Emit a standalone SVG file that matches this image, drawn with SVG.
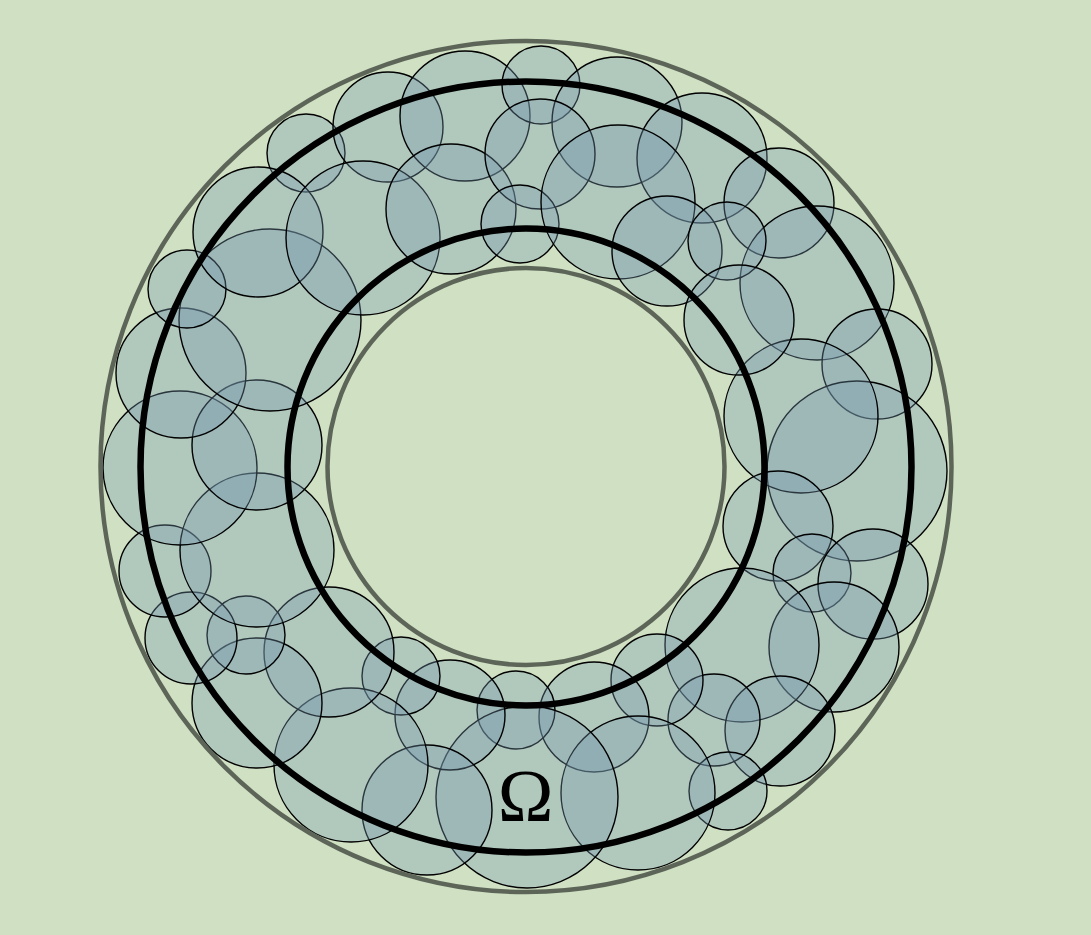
<svg xmlns="http://www.w3.org/2000/svg" width="1091" height="935" viewBox="0 0 1091 935">
<style>
.b{fill:#779bae;fill-opacity:0.35;stroke:#000;stroke-width:1.4}
.g{fill:none;stroke:#5d6558;stroke-width:4.5}
.k{fill:none;stroke:#000;stroke-width:6.5}
.t{font-family:"Liberation Serif","DejaVu Serif",serif;font-size:75px;fill:#000}
</style>
<rect width="1091" height="935" fill="#d0e0c3"/>
<g id="balls">
<circle class="b" cx="306" cy="153" r="39"/>
<circle class="b" cx="388" cy="127" r="55"/>
<circle class="b" cx="465" cy="116" r="65"/>
<circle class="b" cx="541" cy="85" r="39"/>
<circle class="b" cx="617" cy="122" r="65"/>
<circle class="b" cx="702" cy="158" r="65"/>
<circle class="b" cx="779" cy="203" r="55"/>
<circle class="b" cx="817" cy="283" r="77"/>
<circle class="b" cx="877" cy="364" r="55"/>
<circle class="b" cx="857" cy="471" r="90"/>
<circle class="b" cx="801" cy="416" r="77"/>
<circle class="b" cx="778" cy="526" r="55"/>
<circle class="b" cx="812" cy="573" r="39"/>
<circle class="b" cx="873" cy="584" r="55"/>
<circle class="b" cx="834" cy="647" r="65"/>
<circle class="b" cx="742" cy="645" r="77"/>
<circle class="b" cx="780" cy="731" r="55"/>
<circle class="b" cx="714" cy="720" r="46"/>
<circle class="b" cx="728" cy="791" r="39"/>
<circle class="b" cx="657" cy="680" r="46"/>
<circle class="b" cx="594" cy="717" r="55"/>
<circle class="b" cx="638" cy="793" r="77"/>
<circle class="b" cx="516" cy="710" r="39"/>
<circle class="b" cx="527" cy="797" r="91"/>
<circle class="b" cx="450" cy="715" r="55"/>
<circle class="b" cx="427" cy="810" r="65"/>
<circle class="b" cx="401" cy="676" r="39"/>
<circle class="b" cx="351" cy="765" r="77"/>
<circle class="b" cx="329" cy="652" r="65"/>
<circle class="b" cx="257" cy="703" r="65"/>
<circle class="b" cx="246" cy="635" r="39"/>
<circle class="b" cx="191" cy="638" r="46"/>
<circle class="b" cx="165" cy="571" r="46"/>
<circle class="b" cx="257" cy="550" r="77"/>
<circle class="b" cx="180" cy="468" r="77"/>
<circle class="b" cx="257" cy="445" r="65"/>
<circle class="b" cx="181" cy="373" r="65"/>
<circle class="b" cx="270" cy="320" r="91"/>
<circle class="b" cx="187" cy="289" r="39"/>
<circle class="b" cx="258" cy="232" r="65"/>
<circle class="b" cx="363" cy="238" r="77"/>
<circle class="b" cx="451" cy="209" r="65"/>
<circle class="b" cx="540" cy="154" r="55"/>
<circle class="b" cx="520" cy="224" r="39"/>
<circle class="b" cx="618" cy="202" r="77"/>
<circle class="b" cx="667" cy="251" r="55"/>
<circle class="b" cx="727" cy="241" r="39"/>
<circle class="b" cx="739" cy="320" r="55"/>
</g>
<g id="rings">
<circle class="g" cx="526" cy="466.5" r="425.5"/>
<circle class="g" cx="526" cy="466.5" r="198.5"/>
<circle class="k" cx="526" cy="467" r="385.5"/>
<circle class="k" cx="526" cy="467" r="238.5"/>
</g>
<text class="t" x="525.5" y="821" text-anchor="middle">Ω</text>
</svg>
